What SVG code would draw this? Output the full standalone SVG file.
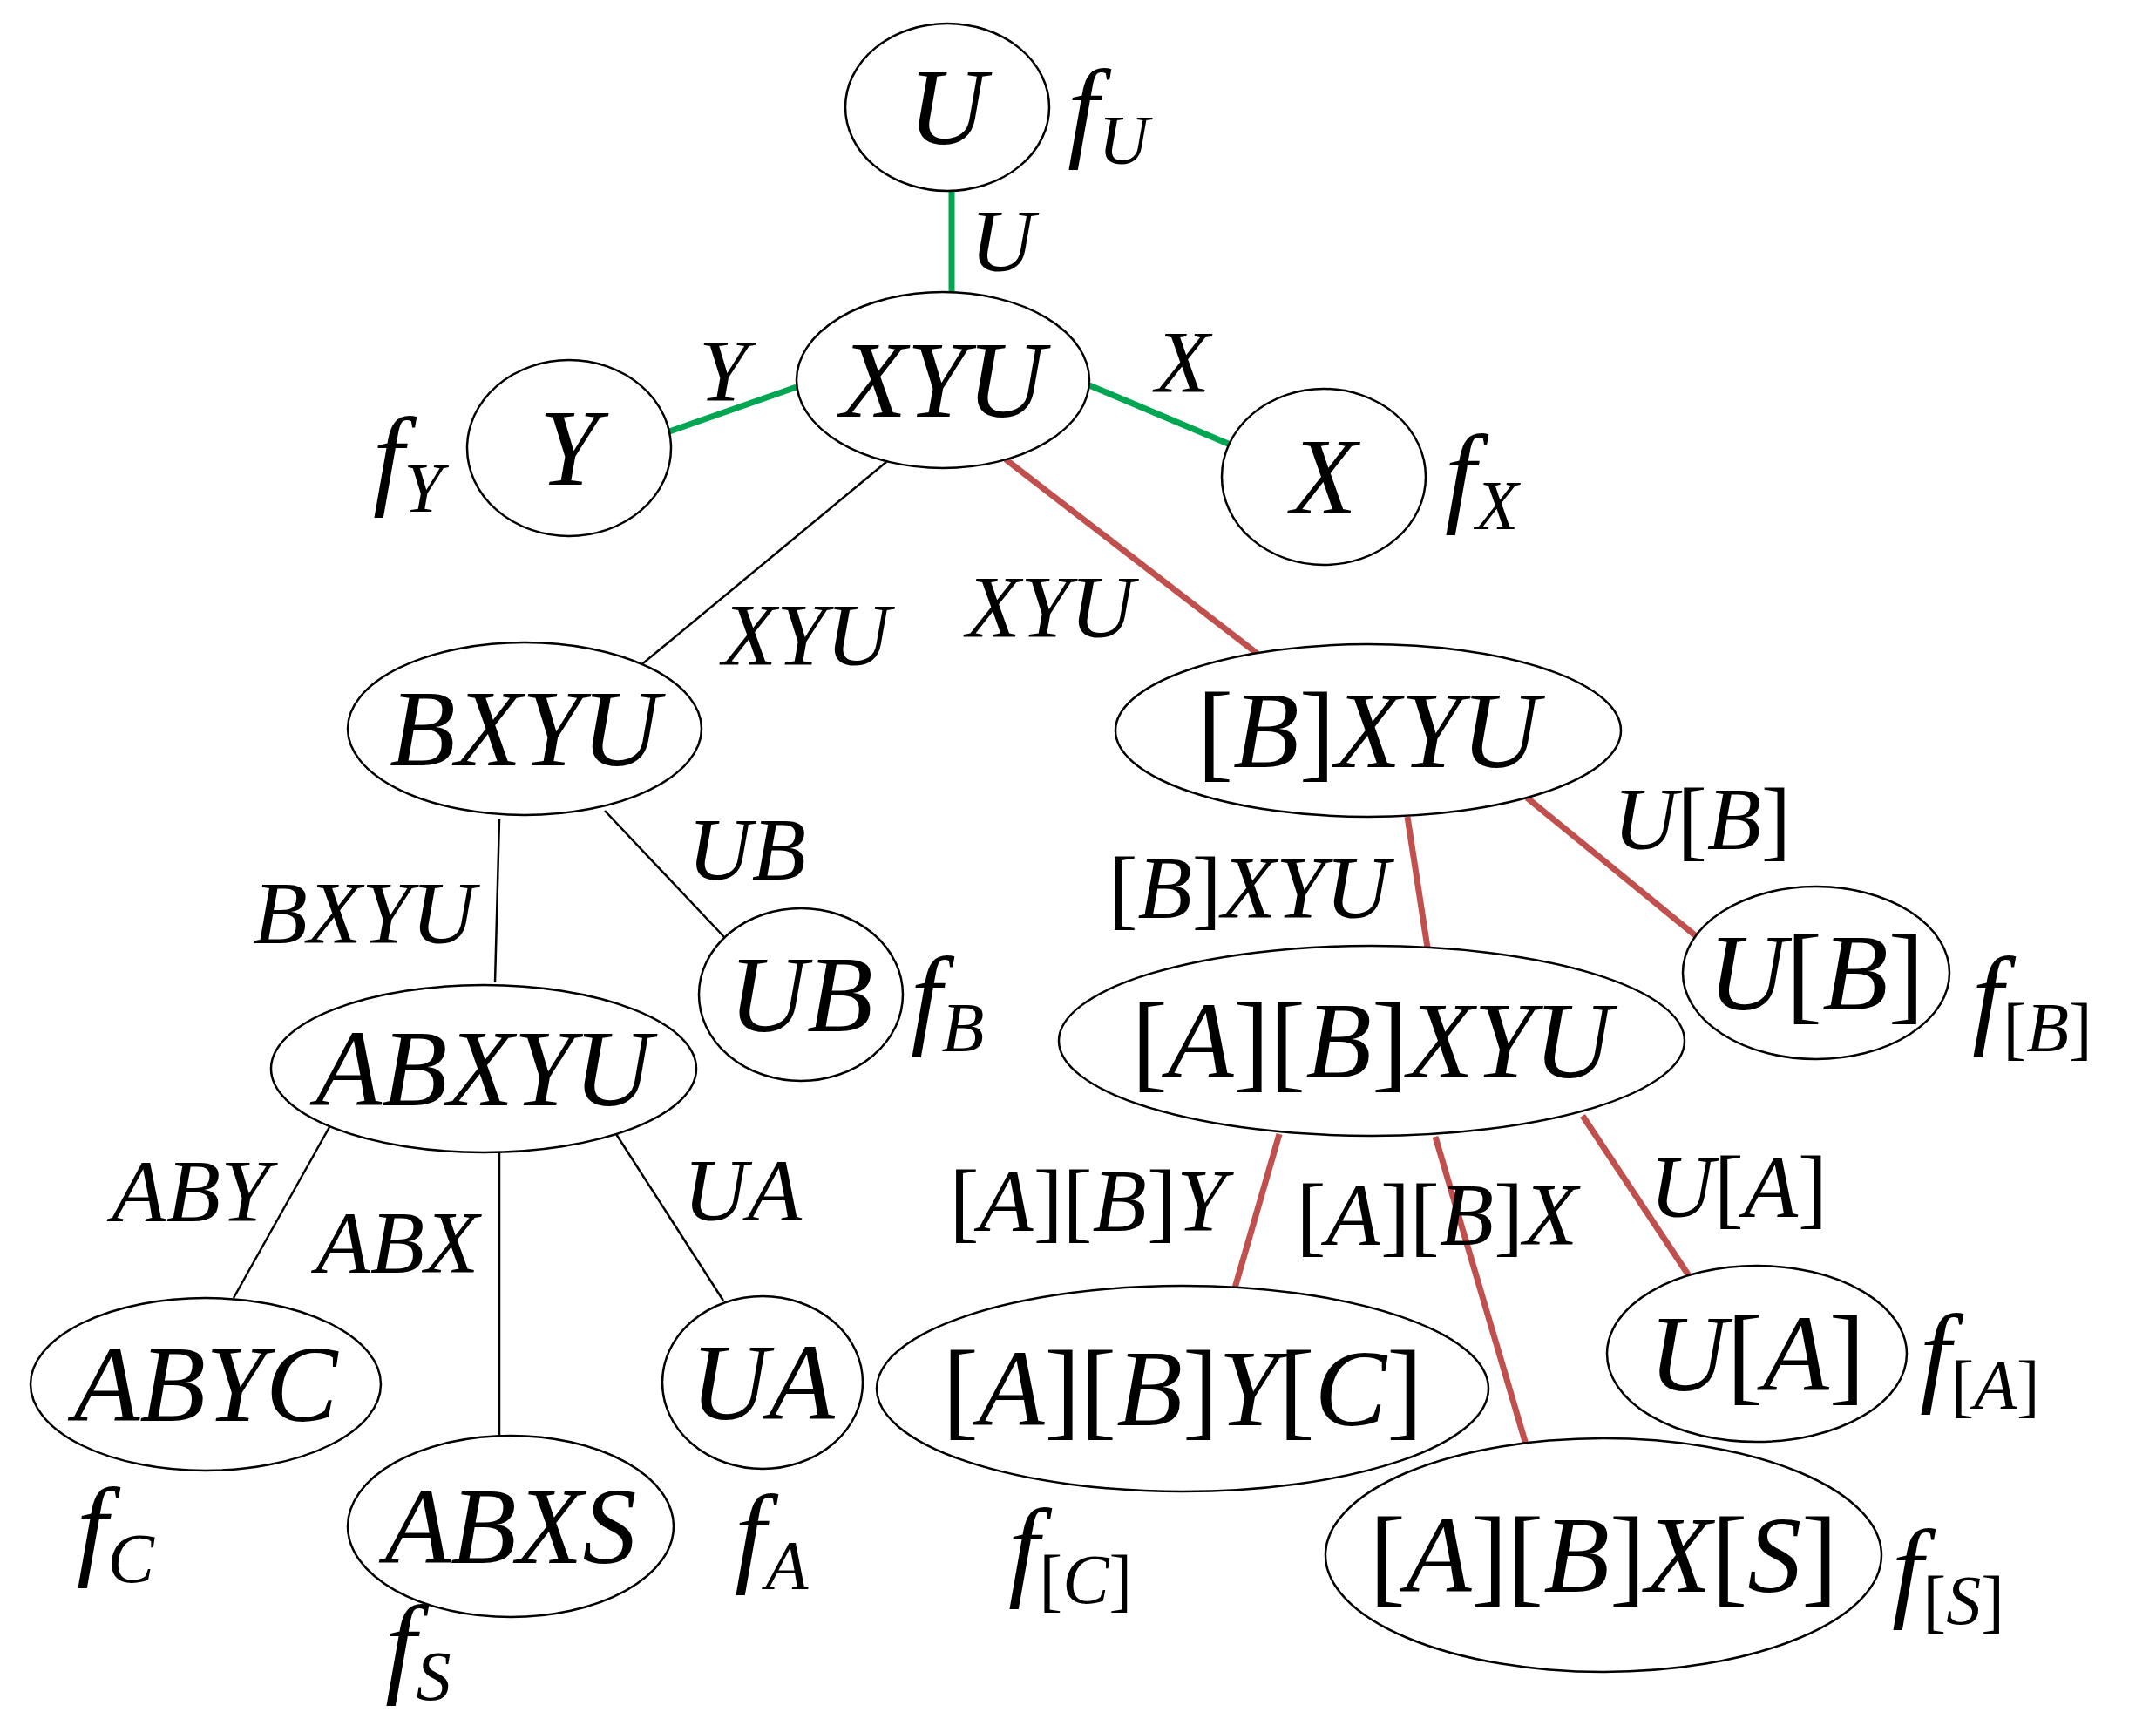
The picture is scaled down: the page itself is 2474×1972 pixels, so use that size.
<svg xmlns="http://www.w3.org/2000/svg" width="2474" height="1972" viewBox="0 0 2474 1972">
<style>
text{font-family:"Liberation Serif",serif;font-style:italic;fill:#000}
.u{font-style:normal}
.n{font-size:124px;text-anchor:middle}
.e{font-size:102px;text-anchor:middle}
.f{font-size:128px}
.s{font-size:80px}
ellipse{fill:#fff;stroke:#000;stroke-width:2.5}
.g{stroke:#00a651;stroke-width:7}
.r{stroke:#c0504d;stroke-width:7}
.k{stroke:#000;stroke-width:2.5}
</style>
<rect width="2474" height="1972" fill="#fff"/>
<g id="connectors">
<line class="g" x1="1092" y1="219" x2="1092" y2="335"/>
<line class="g" x1="768" y1="495" x2="914" y2="444"/>
<line class="g" x1="1250" y1="442" x2="1414" y2="511"/>
<line class="k" x1="1017" y1="530" x2="733" y2="765"/>
<line class="r" x1="1154" y1="527" x2="1443" y2="750"/>
<line class="k" x1="573" y1="940" x2="568" y2="1127"/>
<line class="k" x1="694" y1="930" x2="832" y2="1076"/>
<line class="r" x1="1615" y1="937" x2="1638" y2="1087"/>
<line class="r" x1="1752" y1="915" x2="1950" y2="1077"/>
<line class="k" x1="378" y1="1293" x2="268" y2="1489"/>
<line class="k" x1="573" y1="1321" x2="573" y2="1649"/>
<line class="k" x1="707" y1="1301" x2="830" y2="1492"/>
<line class="r" x1="1468" y1="1301" x2="1416" y2="1481"/>
<line class="r" x1="1647" y1="1304" x2="1751" y2="1657"/>
<line class="r" x1="1816" y1="1280" x2="1939" y2="1465"/>
<text class="e" x="1150" y="311">U</text>
<text class="e" x="830" y="460">Y</text>
<text class="e" x="1357" y="450">X</text>
<text class="e" x="925" y="763">XYU</text>
<text class="e" x="1205" y="731">XYU</text>
<text class="e" x="857" y="1009">UB</text>
<text class="e" x="418" y="1082">BXYU</text>
<text class="e" x="1953" y="974">U<tspan class="u">[</tspan>B<tspan class="u">]</tspan></text>
<text class="e" x="1433" y="1053"><tspan class="u">[</tspan>B<tspan class="u">]</tspan>XYU</text>
<text class="e" x="219" y="1401">ABY</text>
<text class="e" x="456" y="1460">ABX</text>
<text class="e" x="852" y="1400">UA</text>
<text class="e" x="1248" y="1412"><tspan class="u">[</tspan>A<tspan class="u">][</tspan>B<tspan class="u">]</tspan>Y</text>
<text class="e" x="1649" y="1428"><tspan class="u">[</tspan>A<tspan class="u">][</tspan>B<tspan class="u">]</tspan>X</text>
<text class="e" x="1995" y="1396">U<tspan class="u">[</tspan>A<tspan class="u">]</tspan></text>
</g>
<g id="U"><ellipse cx="1087" cy="123" rx="117" ry="96"/><text class="n" x="1087" y="165">U</text><text class="f" x="1225" y="168">f<tspan class="s" dy="20">U</tspan></text></g>
<g id="XYU"><ellipse cx="1082" cy="436" rx="168" ry="101"/><text class="n" x="1082" y="478">XYU</text></g>
<g id="Y"><ellipse cx="653" cy="514" rx="117" ry="101"/><text class="n" x="653" y="556">Y</text><text class="f" x="428" y="567">f<tspan class="s" dy="20">Y</tspan></text></g>
<g id="X"><ellipse cx="1519" cy="547" rx="117" ry="101"/><text class="n" x="1519" y="589">X</text><text class="f" x="1658" y="587">f<tspan class="s" dy="20">X</tspan></text></g>
<g id="BXYU"><ellipse cx="602" cy="836" rx="203" ry="99"/><text class="n" x="602" y="878">BXYU</text></g>
<g id="BbXYU"><ellipse cx="1570" cy="838" rx="290" ry="99"/><text class="n" x="1570" y="880"><tspan class="u">[</tspan>B<tspan class="u">]</tspan>XYU</text></g>
<g id="UB"><ellipse cx="919" cy="1141" rx="117" ry="99"/><text class="n" x="919" y="1183">UB</text><text class="f" x="1045" y="1186">f<tspan class="s" dy="20">B</tspan></text></g>
<g id="UbB"><ellipse cx="2084" cy="1116" rx="153" ry="99"/><text class="n" x="2084" y="1158">U<tspan class="u">[</tspan>B<tspan class="u">]</tspan></text><text class="f" x="2263" y="1186">f<tspan class="s" dy="20"><tspan class="u">[</tspan>B<tspan class="u">]</tspan></tspan></text></g>
<g id="ABXYU"><ellipse cx="555" cy="1226" rx="244" ry="96"/><text class="n" x="555" y="1268">ABXYU</text></g>
<g id="AbBbXYU"><ellipse cx="1574" cy="1194" rx="359" ry="109"/><text class="n" x="1574" y="1236"><tspan class="u">[</tspan>A<tspan class="u">][</tspan>B<tspan class="u">]</tspan>XYU</text></g>
<g id="ABYC"><ellipse cx="236" cy="1588" rx="201" ry="99"/><text class="n" x="236" y="1630">ABYC</text><text class="f" x="88" y="1795">f<tspan class="s" dy="20">C</tspan></text></g>
<g id="ABXS"><ellipse cx="586" cy="1751" rx="187" ry="104"/><text class="n" x="586" y="1793">ABXS</text><text class="f" x="442" y="1930">f<tspan class="s" dy="20">S</tspan></text></g>
<g id="UA"><ellipse cx="875" cy="1586" rx="115" ry="99"/><text class="n" x="875" y="1628">UA</text><text class="f" x="843" y="1803">f<tspan class="s" dy="20">A</tspan></text></g>
<g id="AbBbYCb"><ellipse cx="1357" cy="1593" rx="351" ry="118"/><text class="n" x="1357" y="1635"><tspan class="u">[</tspan>A<tspan class="u">][</tspan>B<tspan class="u">]</tspan>Y<tspan class="u">[</tspan>C<tspan class="u">]</tspan></text><text class="f" x="1157" y="1819">f<tspan class="s" dy="20"><tspan class="u">[</tspan>C<tspan class="u">]</tspan></tspan></text></g>
<g id="UbA"><ellipse cx="2016" cy="1553" rx="172" ry="101"/><text class="n" x="2016" y="1595">U<tspan class="u">[</tspan>A<tspan class="u">]</tspan></text><text class="f" x="2203" y="1596">f<tspan class="s" dy="20"><tspan class="u">[</tspan>A<tspan class="u">]</tspan></tspan></text></g>
<g id="AbBbXSb"><ellipse cx="1840" cy="1784" rx="319" ry="134"/><text class="n" x="1840" y="1826"><tspan class="u">[</tspan>A<tspan class="u">][</tspan>B<tspan class="u">]</tspan>X<tspan class="u">[</tspan>S<tspan class="u">]</tspan></text><text class="f" x="2171" y="1843">f<tspan class="s" dy="20"><tspan class="u">[</tspan>S<tspan class="u">]</tspan></tspan></text></g>
</svg>
